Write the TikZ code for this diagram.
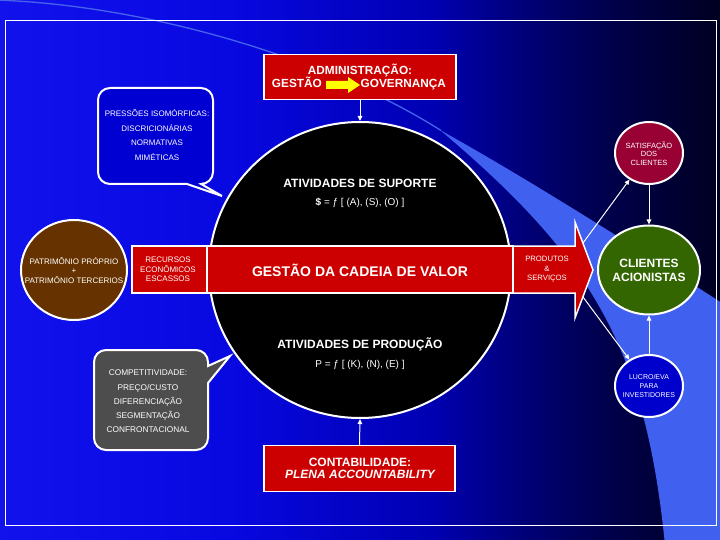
\documentclass[tikz,border=0pt]{standalone}
\usepackage{fontspec}
\setmainfont{Liberation Sans}
\usetikzlibrary{shapes.geometric,arrows.meta}
\definecolor{redc}{RGB}{204,0,0}
\definecolor{brownc}{RGB}{102,51,0}
\definecolor{crimc}{RGB}{153,0,51}
\definecolor{greenc}{RGB}{51,102,0}
\definecolor{lucroc}{RGB}{0,0,204}
\definecolor{grayc}{RGB}{77,77,77}
\definecolor{bubc}{RGB}{0,0,210}
\definecolor{bandc}{RGB}{64,96,240}
\definecolor{linec}{RGB}{70,100,235}
\definecolor{yellc}{RGB}{255,255,0}
\pgfdeclarehorizontalshading{bgsh}{100bp}{rgb(0bp)=(0.07,0.07,0.93); rgb(25bp)=(0.07,0.07,0.93); rgb(41bp)=(0.03,0.03,0.88); rgb(55bp)=(0,0,0.70); rgb(61bp)=(0,0,0.48); rgb(67bp)=(0,0,0.30); rgb(75bp)=(0,0,0.13); rgb(100bp)=(0,0,0.13)}
\tikzset{
  txt/.style={text=white, align=center, inner sep=0pt},
  btxt/.style={text=white, inner sep=0pt, anchor=base},
  redbox/.style={draw=white, line width=1.5pt, fill=redc, inner sep=0pt},
  circ/.style={ellipse, draw=white, line width=2pt, inner sep=0pt},
  conn/.style={draw=white, line width=1pt, -{Triangle[length=5pt,width=4.5pt]}},
  bubble/.style={draw=white, line width=2pt}
}
\begin{document}
\begin{tikzpicture}[x=1pt,y=-1pt]
\useasboundingbox (0,0) rectangle (720,540);
\clip (0,0) rectangle (720,540);
% background
\shade[shading=bgsh] (0,0) rectangle (720,540);
\fill[bandc] (440,130) .. controls (530,180) and (640,250) .. (725,305) -- (725,545) -- (665,545)
  .. controls (645,345) and (590,257) .. (440,130) -- cycle;
\draw[linec, line width=1.3pt] (-5,0) .. controls (150,5) and (330,60) .. (441,130.5);
\draw[white, line width=0.8pt] (5,20) rectangle (716,525);

% central ellipse
\node[circ, fill=black, minimum width=302, minimum height=296] (core) at (360,270) {};
\node[btxt, font=\fontsize{12}{14}\selectfont\bfseries] (sup) at (360,188) {ATIVIDADES DE SUPORTE};
\node[btxt, font=\fontsize{10}{12}\selectfont] (supf) at (360,205.5) {\textbf{\$} = ƒ [ (A), (S), (O) ]};
\node[btxt, font=\fontsize{12}{14}\selectfont\bfseries] (prod) at (360,348) {ATIVIDADES DE PRODUÇÃO};
\node[btxt, font=\fontsize{10}{12}\selectfont] (prodf) at (360,367) {P = ƒ [ (K), (N), (E) ]};

% top box
\node[redbox, minimum width=192, minimum height=45] (admin) at (360,77) {};
\node[btxt, font=\fontsize{11.8}{13}\selectfont\bfseries] (admt) at (360,75) {ADMINISTRAÇÃO:};
\node[btxt, font=\fontsize{11.8}{13}\selectfont\bfseries, anchor=base east] (gest) at (322,88) {GESTÃO};
\node[btxt, font=\fontsize{11.8}{13}\selectfont\bfseries, anchor=base west] (gov) at (360.5,88) {GOVERNANÇA};
\fill[yellc] (326,81) -- (348,81) -- (348,77) -- (360,85) -- (348,93) -- (348,89) -- (326,89) -- cycle;

% bottom box
\node[redbox, minimum width=191, minimum height=46] (cont) at (359.5,468.5) {};
\node[btxt, font=\fontsize{12}{14}\selectfont\bfseries] (contt) at (360,466) {CONTABILIDADE:};
\node[btxt, font=\fontsize{12}{14}\selectfont\bfseries\itshape] (conti) at (360,478) {PLENA ACCOUNTABILITY};

\draw[conn] (admin.south) -- (core.north);
\draw[conn] (cont.north) -- (core.south);

% value chain band
\node[redbox, minimum width=75, minimum height=47] (rec) at (169.5,269.5) {};
\node[redbox, minimum width=306, minimum height=47] (gdv) at (360,269.5) {};
\draw[redbox] (513,246) -- (575,246) -- (575,222) -- (593,270) -- (575,318) -- (575,293) -- (513,293) -- cycle;
\coordinate (hu) at (583,243);
\coordinate (hd) at (583,297);
\node[txt, font=\fontsize{8}{9.5}\selectfont] (rect) at (168,269.5) {RECURSOS\\ECONÔMICOS\\ESCASSOS};
\node[btxt, font=\fontsize{14}{16}\selectfont\bfseries] (gdvt) at (360,276) {GESTÃO DA CADEIA DE VALOR};
\node[txt, font=\fontsize{7.7}{9.5}\selectfont] (prodt) at (547,269.5) {PRODUTOS\\\&\\SERVIÇOS};

% patrimonio
\node[circ, fill=brownc, minimum width=106, minimum height=100] (patr) at (74,270) {};
\node[txt, font=\fontsize{8}{9.5}\selectfont] (patrt) at (74,270.5) {PATRIMÔNIO PRÓPRIO\\+\\PATRIMÔNIO TERCERIOS};

% right circles
\node[circ, fill=crimc, minimum width=68, minimum height=62] (satis) at (649,153) {};
\node[txt, font=\fontsize{7.5}{8.5}\selectfont] (satist) at (649,153.5) {SATISFAÇÃO\\DOS\\CLIENTES};
\node[circ, fill=greenc, minimum width=102, minimum height=89] (cli) at (649,270) {};
\node[btxt, font=\fontsize{12}{14}\selectfont\bfseries] (clit) at (649,267) {CLIENTES};
\node[btxt, font=\fontsize{12}{14}\selectfont\bfseries] (clia) at (649,281) {ACIONISTAS};
\node[circ, fill=lucroc, minimum width=68, minimum height=62] (lucro) at (649,386) {};
\node[txt, font=\fontsize{7}{9}\selectfont] (lucrot) at (649,386) {LUCRO/EVA\\PARA\\INVESTIDORES};

\draw[conn] (satis.south) -- (cli.north);
\draw[conn] (lucro.north) -- (cli.south);
\draw[conn] (hu) -- (satis);
\draw[conn] (hd) -- (lucro);

% pressoes bubble
\draw[bubble, fill=bubc] (110,88) -- (201,88) arc[start angle=270, end angle=360, radius=12]
  -- (213,172) arc[start angle=0, end angle=90, radius=12]
  -- (201,184) -- (222,196) -- (187,184) -- (110,184)
  arc[start angle=90, end angle=180, radius=12] -- (98,100)
  arc[start angle=180, end angle=270, radius=12] -- cycle;
\node[txt, font=\fontsize{8}{14.7}\selectfont] (presst) at (157,135) {PRESSÕES ISOMÓRFICAS:\\DISCRICIONÁRIAS\\NORMATIVAS\\MIMÉTICAS};

% competitividade bubble
\draw[bubble, fill=grayc] (106,350) -- (196,350) arc[start angle=270, end angle=360, radius=12]
  -- (208,366) -- (230,356) -- (208,383) -- (208,438)
  arc[start angle=0, end angle=90, radius=12] -- (106,450)
  arc[start angle=90, end angle=180, radius=12] -- (94,362)
  arc[start angle=180, end angle=270, radius=12] -- cycle;
\node[txt, font=\fontsize{8.3}{14.2}\selectfont] (compt) at (148,401.5) {COMPETITIVIDADE:\\PREÇO/CUSTO\\DIFERENCIAÇÃO\\SEGMENTAÇÃO\\CONFRONTACIONAL};
\end{tikzpicture}
\end{document}
